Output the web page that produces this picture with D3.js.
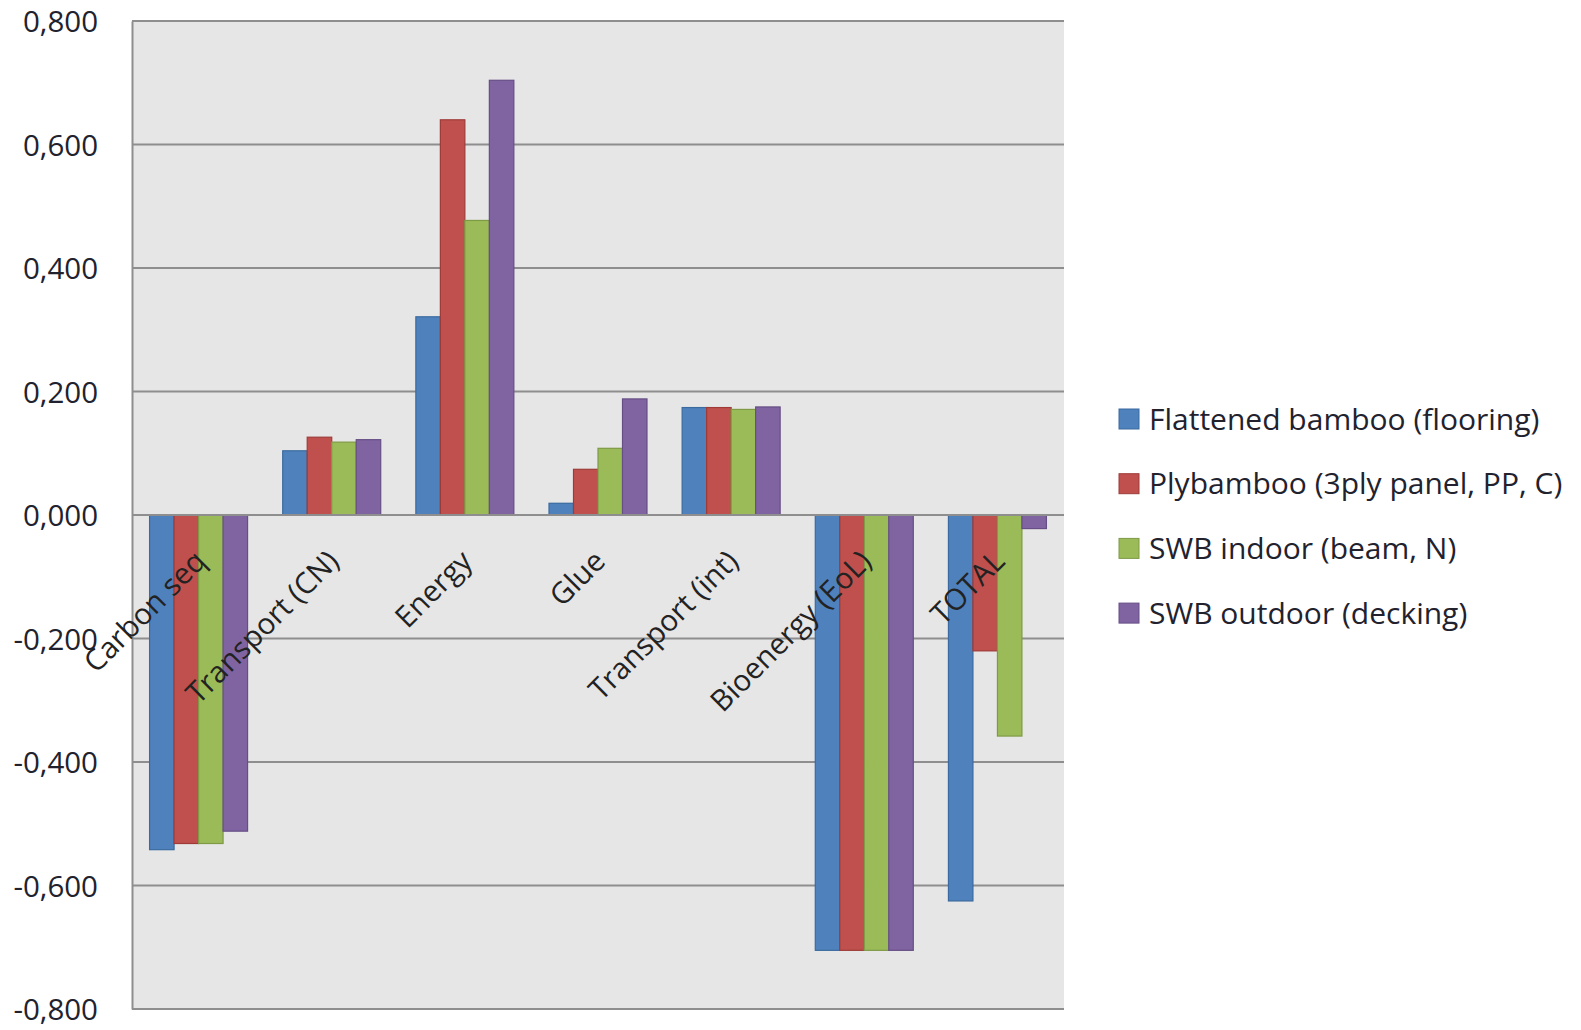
<!DOCTYPE html>
<html>
<head>
<meta charset="utf-8">
<script src="https://cdn.jsdelivr.net/npm/d3@7/dist/d3.min.js"></script>
<style>
  html, body { margin: 0; padding: 0; background: #ffffff; }
  svg { display: block; font-family: "Open Sans", "DejaVu Sans", sans-serif; }
</style>
</head>
<body>
<svg id="chart" width="1581" height="1030"></svg>
<script>
// Emission contributions per life-cycle stage (kg CO2 eq)
const categories = ["Carbon seq", "Transport (CN)", "Energy", "Glue", "Transport (int)", "Bioenergy (EoL)", "TOTAL"];
const seriesNames = [
  "Flattened bamboo (flooring)",
  "Plybamboo (3ply panel, PP, C)",
  "SWB indoor (beam, N)",
  "SWB outdoor (decking)"
];
const flattenedBamboo = [-0.542, 0.104, 0.321, 0.019, 0.174, -0.705, -0.625];
const plybamboo       = [-0.532, 0.126, 0.640, 0.074, 0.174, -0.705, -0.220];
const swbIndoor       = [-0.532, 0.118, 0.477, 0.108, 0.171, -0.705, -0.358];
const swbOutdoor      = [-0.512, 0.122, 0.704, 0.188, 0.175, -0.705, -0.022];
const tickValues = [-0.8, -0.6, -0.4, -0.2, 0, 0.2, 0.4, 0.6, 0.8];
const colors = ["#4f81bd", "#c0504d", "#9bbb59", "#8064a2"];
const strokes = ["#3a6a9f", "#9e3b38", "#7e9a45", "#664f85"];

const seriesValues = [flattenedBamboo, plybamboo, swbIndoor, swbOutdoor];

const svg = d3.select("#chart");
const plot = { left: 132, right: 1064, top: 21, bottom: 1009 };

const y = d3.scaleLinear().domain([-0.8, 0.8]).range([plot.bottom, plot.top]);
const x0 = d3.scaleBand().domain(categories).range([plot.left, plot.right]).padding(0);
const groupPad = x0.bandwidth() * 0.132;
const x1 = d3.scaleBand().domain(d3.range(seriesNames.length))
  .range([groupPad, x0.bandwidth() - groupPad]).padding(0);

// plot background
svg.append("rect")
  .attr("x", plot.left).attr("y", plot.top)
  .attr("width", plot.right - plot.left).attr("height", plot.bottom - plot.top)
  .attr("fill", "#e6e6e6");

// horizontal gridlines
svg.append("g").selectAll("line").data(tickValues).join("line")
  .attr("x1", plot.left).attr("x2", plot.right)
  .attr("y1", d => y(d)).attr("y2", d => y(d))
  .attr("stroke", "#8e8e8e").attr("stroke-width", 2);

// value axis
const yAxis = d3.axisLeft(y).tickValues(tickValues).tickSize(0).tickPadding(34)
  .tickFormat(d => d3.format(".3f")(d).replace(".", ",").replace("−", "-"));
const gy = svg.append("g").attr("transform", `translate(${plot.left},0)`).call(yAxis);
gy.select(".domain").attr("stroke", "#8e8e8e").attr("stroke-width", 2);
gy.selectAll("text")
  .attr("font-size", 29.5)
  .attr("dy", "0.36em")
  .attr("fill", "#22222e")
  .attr("font-family", "'Open Sans', sans-serif");

// bars
const groups = svg.append("g").selectAll("g").data(categories).join("g")
  .attr("transform", d => `translate(${x0(d)},0)`);
groups.selectAll("rect")
  .data((c, ci) => seriesValues.map((vals, si) => ({ si, v: vals[ci] })))
  .join("rect")
  .attr("x", d => x1(d.si))
  .attr("width", x1.bandwidth())
  .attr("y", d => Math.min(y(d.v), y(0)))
  .attr("height", d => Math.abs(y(d.v) - y(0)))
  .attr("fill", d => colors[d.si])
  .attr("stroke", d => strokes[d.si])
  .attr("stroke-width", 1.2);

// category axis along zero
svg.append("line")
  .attr("x1", plot.left).attr("x2", plot.right)
  .attr("y1", y(0)).attr("y2", y(0))
  .attr("stroke", "#8e8e8e").attr("stroke-width", 2);

// rotated category labels
svg.append("g").selectAll("text").data(categories).join("text")
  .attr("transform", d => `translate(${x0(d) + x0.bandwidth() / 2 + 9},${y(0) + 48}) rotate(-45)`)
  .attr("text-anchor", "end")
  .attr("font-size", 29.5)
  .attr("fill", "#222222")
  .text(d => d);

// legend
const legend = svg.append("g").attr("transform", "translate(1119,419)");
const items = legend.selectAll("g").data(seriesNames).join("g")
  .attr("transform", (d, i) => `translate(0,${i * 64.7})`);
items.append("rect")
  .attr("x", 0).attr("y", -10).attr("width", 20).attr("height", 20)
  .attr("fill", (d, i) => colors[i])
  .attr("stroke", (d, i) => strokes[i]).attr("stroke-width", 1);
items.append("text")
  .attr("x", 30).attr("y", 0).attr("dy", "0.35em")
  .attr("font-size", 30)
  .attr("fill", "#22222e")
  .text(d => d);
</script>
</body>
</html>
